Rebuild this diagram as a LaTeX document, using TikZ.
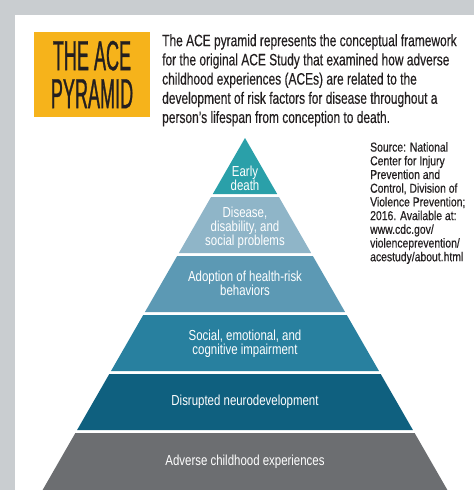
\documentclass[tikz,border=0pt]{standalone}
\usepackage{fontspec}
\setmainfont{Liberation Sans}
\newfontfamily\titlefont{Liberation Sans}[FakeStretch=0.43, FakeBold=0.7]
\newfontfamily\narrowfont{Liberation Sans}[FakeStretch=0.725, FakeBold=0.3]
\newfontfamily\layerfont{Liberation Sans}[FakeStretch=0.79]
\newfontfamily\sourcefont{Liberation Sans}[FakeStretch=0.80, FakeBold=0.3]
\definecolor{frame}{HTML}{C9CDD0}
\definecolor{aceyellow}{HTML}{F6B31B}
\definecolor{lvlone}{HTML}{2AA0A9}
\definecolor{lvltwo}{HTML}{8FB5C8}
\definecolor{lvlthree}{HTML}{5C99B4}
\definecolor{lvlfour}{HTML}{28809F}
\definecolor{lvlfive}{HTML}{0F607F}
\definecolor{lvlsix}{HTML}{6C6E71}
\definecolor{ink}{HTML}{231F20}

\begin{document}
\begin{tikzpicture}[
      x=1pt, y=-1pt,
      intro/.style={anchor=north west, align=left, inner sep=0pt, text=ink},
      layer/.style={text=white, align=center, inner sep=0pt, font=\layerfont\fontsize{14.5}{14.2}\selectfont}
    ]
      \useasboundingbox (0,0) rectangle (474,490);
      \fill[frame] (0,0) rectangle (474,490);
      \fill[white] (15,15) rectangle (474,490);
      \node[fill=aceyellow, minimum width=116pt, minimum height=85pt, inner sep=0pt, align=center,
            font=\titlefont\fontsize{42}{38}\selectfont, text=ink] (title) at (92,74.5) {THE ACE\\PYRAMID};
      \node[intro, font=\narrowfont\fontsize{16.5}{19.2}\selectfont] (text) at (162,34)
        {The ACE pyramid represents the conceptual framework\\
         for the original ACE Study that examined how adverse\\
         childhood experiences (ACEs) are related to the\\
         development of risk factors for disease throughout a\\
         person’s lifespan from conception to death.};
      \node[intro, font=\sourcefont\fontsize{13}{13.7}\selectfont] (source) at (370,142)
        {Source: National\\ Center for Injury\\ Prevention and\\ Control, Division of\\
         Violence Prevention;\\ 2016. Available at:\\ www.cdc.gov/\\
         violenceprevention/\\ acestudy/about.html};
      \foreach \top/\bot/\col in {138/194/lvlone, 197/253/lvltwo, 256/312/lvlthree,
                                 315/371/lvlfour, 374/430/lvlfive, 433/490/lvlsix}
        \fill[\col] ({245-0.575*(\top-138)},\top) -- ({245+0.575*(\top-138)},\top)
          -- ({245+0.575*(\bot-138)},\bot) -- ({245-0.575*(\bot-138)},\bot) -- cycle;
      \node[layer] (death) at (245,178) {Early\\death};
      \node[layer] (disease) at (245,228) {Disease,\\disability, and\\social problems};
      \node[layer] (adoption) at (245,283) {Adoption of health-risk\\behaviors};
      \node[layer] (social) at (245,344) {Social, emotional, and\\cognitive impairment};
      \node[layer] (neuro) at (245,402) {Disrupted neurodevelopment};
      \node[layer] (adverse) at (245,462) {Adverse childhood experiences};
    \end{tikzpicture}
\end{document}
